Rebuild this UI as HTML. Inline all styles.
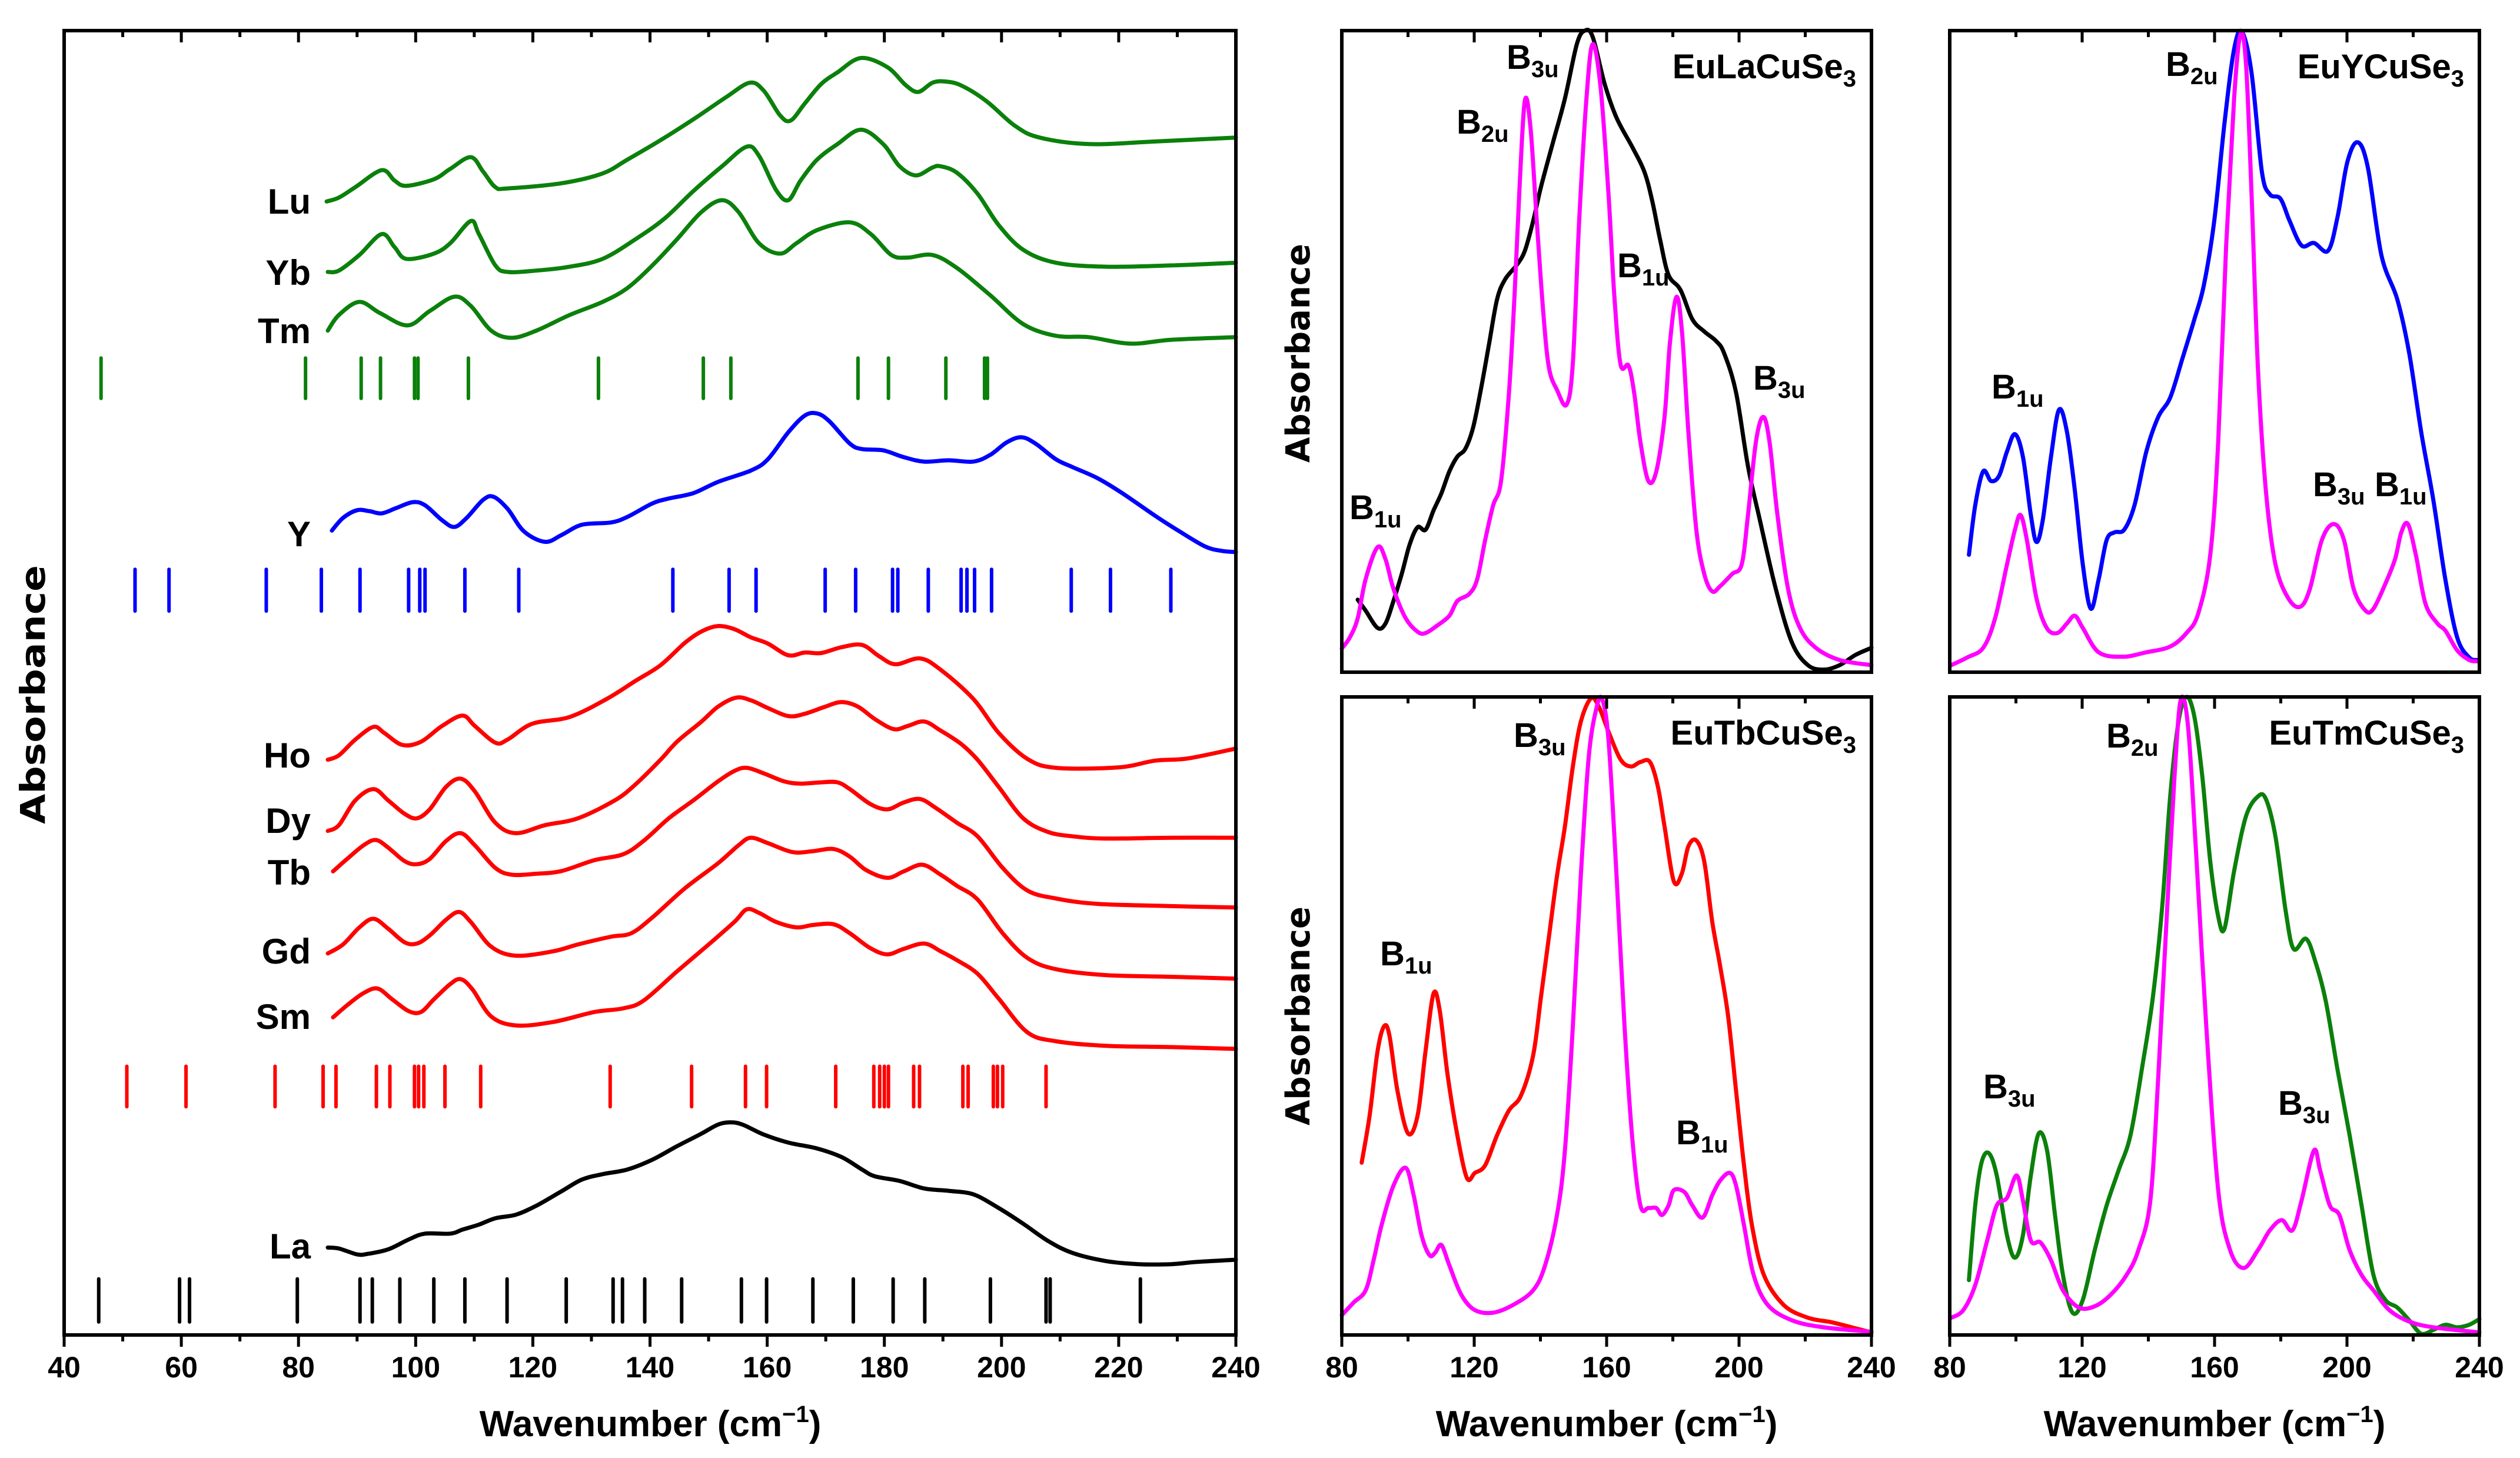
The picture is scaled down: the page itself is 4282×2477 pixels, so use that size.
<!DOCTYPE html>
<html><head><meta charset="utf-8"><style>
html,body{margin:0;padding:0;background:#fff;}
svg{display:block;}
text{font-family:"Liberation Sans",sans-serif;font-weight:bold;fill:#000;}
</style></head><body>
<svg id="fig" width="4282" height="2477" viewBox="0 0 4282 2477" xmlns="http://www.w3.org/2000/svg">
<rect x="0" y="0" width="4282" height="2477" fill="#fff"/>
<g id="left"></g>
<g id="p1"></g>
<g id="p2"></g>
<g id="p3"></g>
<g id="p4"></g>
</svg>
<script>
// ---------- LEFT PANEL DATA ----------
const luX=[84.8,86.9,89.7,94.2,96.4,98.4,103.1,105.9,109.4,111.5,113.6,115.7,124.9,131.9,136.1,141.8,147.4,153.0,157.0,159.4,162.2,164.0,166.4,169.2,172.0,176.0,180.5,183.7,185.8,188.2,190.3,193.1,197.4,202.3,206.5,215.0,226.2,240];
const luY=[86.9,87.2,88.0,89.3,88.5,88.1,88.6,89.4,90.3,89.2,88.0,87.9,88.3,89.05,90.1,91.6,93.2,94.9,96.0,95.4,93.5,93.1,94.4,95.9,96.8,97.9,97.2,95.8,95.3,96.0,96.1,95.8,94.6,92.7,91.8,91.3,91.5,91.8];
const ybX=[85.0,86.9,90.4,94.2,96.4,98.4,103.1,105.9,109.4,110.8,113.6,115.7,120.6,126.3,131.9,137.5,142.5,147.4,152.3,156.5,158.6,161.5,163.6,165.7,168.5,172.0,176.0,179.8,182.6,185.4,188.2,189.6,192.4,195.9,199.5,203.7,209.3,217.8,229.0,240];
const ybY=[81.5,81.6,82.8,84.4,83.4,82.5,82.9,83.7,85.4,84.4,82.0,81.5,81.6,81.9,82.5,84.0,85.6,87.7,89.6,91.1,90.4,87.8,87.0,88.5,90.1,91.3,92.4,91.3,89.6,88.9,89.5,89.6,89.1,87.5,85.1,83.2,82.2,81.9,82.0,82.2];
const tmX=[85.0,86.9,90.4,93.9,98.6,102.4,106.6,109.4,112.9,116.4,120.6,126.3,131.9,136.1,140.4,144.6,148.8,152.3,155.1,158.6,162.2,165.0,168.5,174.1,177.7,181.2,184.0,188.2,192.4,198.1,203.7,209.3,214.9,222.0,229.0,240];
const tmY=[77.0,78.2,79.2,78.35,77.4,78.5,79.6,78.9,77.0,76.45,77.0,78.2,79.2,80.25,82.0,84.0,86.1,87.0,86.1,83.7,82.9,83.7,84.7,85.3,84.4,82.8,82.6,82.8,81.8,79.7,77.5,76.6,76.5,76.0,76.3,76.5];
const yX=[85.7,87.6,90.0,92.1,94.2,96.7,99.5,101.6,104.5,106.6,108.7,111.5,113.3,115.7,118.5,122.1,124.9,128.4,133.3,136.1,140.4,143.2,147.4,151.6,157.2,160.1,163.6,166.4,168.5,170.6,174.1,176.2,179.8,183.3,186.8,191.0,195.2,198.1,200.9,203.4,205.8,209.3,212.1,216.4,220.6,226.2,230.4,234.7,237.5,240];
const yY=[61.67,62.64,63.23,63.16,62.99,63.40,63.85,63.61,62.47,61.95,62.64,64.02,64.26,63.33,61.60,60.81,61.33,62.12,62.29,62.71,63.75,64.13,64.54,65.40,66.27,67.13,69.2,70.48,70.65,70.06,68.34,67.92,67.82,67.30,66.96,67.06,66.96,67.48,68.44,68.82,68.34,67.13,66.54,65.68,64.54,62.81,61.60,60.46,60.12,60.02];
const hoX=[85.0,86.9,89.7,92.8,94.6,97.7,100.9,104.5,108.0,110.1,113.6,115.7,119.9,126.3,132.6,137.5,141.8,146.0,148.8,151.6,154.4,157.2,160.1,163.6,166.4,169.2,172.7,176.2,179.1,181.9,186.1,189.6,195.2,199.5,204.4,209.3,219.9,226.2,231.8,240];
const hoY=[44.10,44.44,45.65,46.62,46.17,45.24,45.48,46.69,47.48,46.69,45.41,45.65,46.86,47.38,48.76,50.14,51.35,53.08,53.94,54.35,54.11,53.49,53.01,52.11,52.32,52.28,52.73,52.90,52.04,51.42,51.87,51.00,48.76,46.17,44.17,43.48,43.51,44.03,44.20,44.96];
const dyX=[85.0,86.9,89.7,92.8,95.3,98.1,100.2,102.4,105.2,107.7,110.1,113.6,117.1,122.1,127.7,134.0,137.5,141.8,144.6,148.8,151.6,154.7,157.2,160.1,163.6,166.4,169.9,172.7,175.5,178.4,181.6,184.0,186.8,189.6,193.1,195.9,199.5,203.7,207.9,212.1,217.8,229.0,240];
const dyY=[38.64,39.09,40.99,41.85,40.99,39.96,39.61,40.30,42.03,42.65,41.68,39.27,38.47,39.09,39.61,40.99,42.20,44.10,45.48,47.03,48.17,48.86,48.66,48.07,47.45,47.62,48.17,48.52,48.17,47.21,46.45,46.69,47.03,46.34,45.31,44.10,42.03,39.61,38.57,38.23,38.06,38.12,38.12];
const tbX=[85.9,88.3,91.1,93.2,95.3,98.1,100.2,102.4,105.2,107.7,110.1,113.6,116.4,120.6,124.9,130.5,135.4,138.9,143.2,147.4,151.6,154.4,156.5,159.4,162.9,165.7,169.2,172.0,174.1,177.6,180.5,183.3,186.1,188.9,192.4,195.9,200.2,204.4,209.3,216.4,229.0,240];
const tbY=[35.54,36.50,37.54,37.95,37.37,36.33,36.09,36.50,37.88,38.47,37.54,35.81,35.29,35.36,35.57,36.40,36.85,37.88,39.61,40.99,42.44,43.24,43.48,43.06,42.44,42.27,42.37,42.37,41.85,40.71,40.30,40.82,41.09,40.37,39.27,38.23,35.81,34.08,33.46,33.05,32.88,32.77];
const gdX=[85.0,87.6,90.4,92.8,95.3,98.1,100.2,102.4,105.2,107.4,109.4,112.9,117.1,123.5,127.7,133.3,136.8,140.4,146.0,151.6,155.1,157.2,160.1,164.3,167.8,171.3,174.1,176.9,180.5,183.3,186.5,189.6,192.4,195.9,200.2,204.4,209.3,217.8,229.0,240];
const gdY=[29.25,29.94,31.25,31.91,31.15,30.11,30.01,30.63,31.84,32.43,31.67,29.77,29.08,29.42,29.94,30.53,30.80,32.01,34.26,36.16,37.54,38.12,37.71,37.02,37.09,37.26,36.67,35.64,35.05,35.54,36.05,35.29,34.43,33.39,30.80,28.91,28.04,27.59,27.46,27.32];
const smX=[85.9,88.3,91.1,93.5,96.0,98.8,100.9,103.1,105.9,107.7,109.7,112.9,117.1,123.5,130.5,135.4,138.9,144.6,150.2,154.4,156.5,158.6,161.5,165.0,167.8,171.3,174.1,177.6,180.5,183.3,186.8,189.6,192.4,195.9,199.5,204.4,209.3,217.8,229.0,240];
const smY=[24.35,25.28,26.21,26.56,25.73,24.83,24.76,25.73,26.90,27.28,26.49,24.42,23.73,24.00,24.76,25.04,25.63,27.87,30.01,31.67,32.63,32.36,31.67,31.25,31.43,31.49,30.80,29.66,29.18,29.60,30.01,29.42,28.73,27.70,25.80,23.21,22.52,22.17,22.07,21.93];
const laX=[85.0,86.9,90.0,91.8,95.3,98.8,101.6,105.9,108.0,110.8,113.6,117.1,120.6,124.9,128.4,131.9,136.1,140.4,144.6,148.8,151.6,153.7,155.8,159.4,163.6,168.5,172.7,176.2,178.4,182.6,186.8,191.0,195.2,199.5,203.7,207.9,212.1,217.8,223.4,229.0,233.3,240];
const laY=[6.70,6.63,6.18,6.22,6.56,7.32,7.77,7.77,8.08,8.46,8.95,9.22,9.91,11.02,11.92,12.33,12.68,13.44,14.47,15.44,16.13,16.30,16.13,15.37,14.75,14.30,13.64,12.68,12.16,11.81,11.23,11.05,10.78,9.74,8.53,7.22,6.29,5.67,5.43,5.43,5.60,5.77];
const greenSticks=[46.3,81.2,90.7,94.0,99.8,100.4,109.0,131.2,149.1,153.8,175.5,180.7,190.5,197.1,197.6];
const blueSticks=[52.1,57.9,74.5,83.9,90.5,98.8,100.7,101.6,108.4,117.6,143.9,153.5,158.1,169.9,175.1,181.4,182.3,187.5,193.1,194.1,195.4,198.3,211.9,218.6,228.9];
const redSticks=[50.7,60.8,76.0,84.2,86.4,93.3,95.6,99.8,100.5,101.4,105.0,111.1,133.2,147.1,156.3,159.9,171.7,178.2,179.2,180.0,180.7,185.0,186.0,193.4,194.3,198.6,199.3,200.2,207.6];
const blackSticks=[45.9,59.7,61.4,79.8,90.5,92.6,97.3,103.1,108.4,115.6,125.7,133.7,135.3,139.1,145.4,155.6,159.9,167.8,174.7,181.5,186.9,198.1,207.6,208.3,223.7];
const leftTicks=[40,60,80,100,120,140,160,180,200,220,240];
const rightTicks=[80,120,160,200,240];

// ---------- RIGHT PANEL DATA ----------
const laCurveX=[84.8,87.2,90.8,93.2,95.6,98.1,100.5,102.9,105.3,107.7,110.1,112.5,114.9,117.3,119.7,122.1,124.5,126.9,129.3,132.9,135.3,137.8,140.2,143.8,147.4,151.0,153.4,155.8,159.4,163.0,167.8,171.4,173.8,176.2,178.7,182.3,185.9,189.5,193.1,195.5,199.1,202.7,206.3,211.1,216.0,220.8,225.6,230.4,235.2,240];
const laCurveY=[11.3,9.6,6.9,7.6,11.1,15.3,19.9,22.6,22.2,25.2,27.9,31.3,33.6,34.8,38.2,44.3,51.2,58.1,61.2,63.5,65.7,70.3,75.7,82.6,89.4,97.9,100,99.0,91.7,86.4,81.8,78.0,73.4,67.3,61.9,59.6,55.0,53.1,51.6,49.7,43.6,32.1,23.7,13.0,4.6,1.1,0.4,1.1,2.7,3.8];
const laCalcX=[80.0,82.4,84.8,87.2,90.8,93.2,95.6,99.3,102.9,105.3,108.9,112.5,114.9,118.5,120.9,123.3,125.7,128.1,130.5,132.2,133.7,135.3,137.0,138.9,140.9,142.6,145.0,147.9,149.8,151.7,153.9,155.8,158.2,160.6,162.3,164.2,166.6,168.3,170.2,172.6,175.0,177.5,179.1,181.1,182.8,184.7,187.1,189.5,191.9,194.3,197.9,200.8,202.7,205.1,207.3,209.2,211.6,214.8,218.4,223.2,230.4,240];
const laCalcY=[3.7,5.4,8.4,14.5,19.5,17.6,13.0,8.4,6.3,6.1,7.3,8.8,11.1,12.2,14.5,20.6,26.0,29.8,43.6,58.9,75.7,89.1,84.9,70.3,55.8,47.4,44.0,41.7,48.2,70.3,89.4,97.9,91.0,74.2,58.9,48.0,47.8,43.6,35.9,29.8,31.3,39.8,51.2,58.5,52.8,37.5,22.2,15.3,12.6,13.4,15.3,16.8,24.5,35.9,39.8,35.9,24.5,13.0,6.9,3.8,1.9,1.1];
const yCurveX=[85.8,87.7,90.1,92.5,94.9,97.3,99.7,102.1,104.5,106.2,108.1,110.6,113.0,115.4,117.8,120.2,122.6,125.0,127.4,129.8,132.7,135.8,139.4,143.0,146.6,150.3,153.9,156.8,159.9,163.0,165.9,168.3,171.2,174.3,176.7,179.9,182.7,186.3,190.0,194.3,197.2,200.1,203.2,206.3,210.4,215.2,218.8,222.4,226.1,229.7,233.3,236.9,239.3];
const yCurveY=[18.3,26.0,31.3,29.8,30.6,34.4,37.1,33.6,24.5,20.3,23.7,33.6,40.9,37.5,28.3,16.8,9.9,14.5,20.6,21.8,22.2,26.0,34.4,39.8,42.8,48.9,55.0,60.4,70.3,85.6,97.1,99.8,93.3,78.0,74.5,73.8,70.3,66.5,66.9,65.7,71.1,79.5,82.6,78.7,65.0,58.1,49.7,37.5,26.8,14.5,5.4,2.3,1.9];
const yCalcX=[80.5,85.3,90.1,93.7,97.3,99.7,101.4,103.3,106.2,109.3,112.5,115.4,117.8,120.2,125.0,132.2,139.4,146.6,151.5,155.1,158.7,161.1,163.5,165.9,167.8,169.5,171.2,173.1,175.5,178.4,182.3,185.9,188.8,192.4,196.0,199.1,202.0,205.6,208.0,211.6,214.5,216.4,218.4,220.8,223.7,227.3,229.7,233.3,236.9,239.3];
const yCalcY=[1.1,2.3,3.8,8.4,16.8,22.2,24.5,20.6,11.5,6.9,6.1,7.6,8.8,6.9,3.1,2.4,3.1,4.0,6.1,9.2,18.3,35.9,66.5,89.4,99.4,94.8,74.2,47.4,28.3,16.8,11.5,10.2,13.0,20.6,23.1,20.6,13.0,9.6,9.9,13.8,17.6,21.8,23.1,18.3,10.7,7.6,6.5,3.4,1.9,1.7];
const tbCurveX=[86.0,88.4,90.8,92.8,94.4,96.8,100.0,102.9,105.3,107.7,109.6,112.0,114.9,117.8,120.2,123.3,126.9,130.5,134.1,137.8,140.2,142.6,145.0,147.4,149.8,152.2,155.3,157.7,160.6,164.2,167.3,170.2,173.1,175.5,177.5,180.3,182.7,184.7,187.1,189.5,191.9,194.3,196.7,199.1,201.5,203.9,207.5,213.5,220.8,227.9,234.0,240];
const tbCurveY=[27.0,34.4,44.5,48.4,46.9,38.3,31.6,34.4,44.5,53.5,50.8,40.6,31.3,24.6,25.4,26.6,31.3,35.2,37.5,43.8,53.1,62.5,71.9,79.7,89.1,96.1,99.8,98.4,94.5,90.2,89.1,89.8,89.8,85.9,79.7,71.1,72.3,76.6,77.5,74.2,64.8,57.8,50.0,38.3,26.6,17.2,9.4,4.7,2.7,2.0,1.2,0.4];
const tbCalcX=[80.0,83.6,87.2,89.6,92.0,95.6,99.3,101.7,104.1,106.5,108.2,110.1,112.5,116.1,120.2,125.7,131.7,137.8,141.4,145.0,147.4,149.8,152.2,154.6,157.0,158.7,160.6,163.0,165.4,167.8,170.2,172.6,175.0,176.7,178.7,180.3,183.5,185.9,189.0,191.9,194.3,197.2,199.1,201.5,204.4,208.7,216.0,225.6,240];
const tbCalcY=[3.1,5.1,7.0,11.7,17.2,23.4,26.2,21.9,15.6,12.5,12.9,14.1,10.9,6.3,3.9,3.5,4.7,7.0,10.9,18.8,28.9,48.4,71.9,90.6,98.4,99.6,93.0,71.9,48.4,30.5,20.3,19.9,19.9,18.8,20.3,22.7,22.4,20.3,18.4,21.9,24.2,25.4,23.4,17.2,9.4,4.7,2.3,1.2,0.5];
const tmCurveX=[85.8,87.7,89.6,91.8,94.2,97.3,99.7,102.1,104.5,106.9,109.4,111.8,114.2,117.1,120.2,123.8,127.4,131.0,134.6,138.2,141.4,144.2,146.6,149.1,151.5,153.9,156.3,158.7,161.1,163.0,165.9,169.5,173.1,175.5,178.4,181.5,183.9,187.6,190.4,193.6,197.2,200.8,204.4,208.0,211.6,215.2,218.8,222.4,226.1,229.7,233.3,236.9,240];
const tmCurveY=[8.6,20.3,27.0,28.5,25.0,15.6,12.1,15.6,25.0,31.6,28.9,18.8,9.4,3.5,5.5,13.3,20.3,25.8,31.3,42.2,53.1,67.2,84.4,96.1,100,96.9,87.5,74.2,65.6,63.7,72.7,81.3,84.4,84.0,78.1,66.4,60.5,62.1,58.6,52.3,41.4,31.3,20.3,9.4,5.5,4.3,2.3,0.2,0.8,1.6,1.2,1.6,2.5];
const tmCalcX=[80.5,84.1,87.7,91.3,94.2,97.3,100.2,102.1,104.5,107.4,110.6,114.2,119.0,123.8,128.6,133.4,137.0,140.6,143.0,145.4,147.9,149.8,152.0,154.4,157.5,161.1,164.7,168.8,173.1,176.7,180.3,183.5,186.3,190.0,191.9,194.8,197.7,200.8,204.4,208.0,212.8,218.8,226.1,240];
const tmCalcY=[2.7,3.9,7.8,14.8,20.3,21.5,25.0,21.1,14.8,14.5,11.7,7.0,4.3,4.5,6.3,9.4,13.3,21.1,40.6,64.1,87.5,99.6,95.3,75.8,48.4,22.7,13.3,10.5,13.3,16.4,18.0,16.4,21.1,28.9,25.8,20.3,18.8,13.3,9.4,7.0,3.9,2.1,1.2,0.4];

const NS="http://www.w3.org/2000/svg";
function mk(parent,tag,attrs){const e=document.createElementNS(NS,tag);for(const k in attrs)e.setAttribute(k,attrs[k]);parent.appendChild(e);return e;}

// ---------- LEFT PANEL ----------
const L={x0:109,x1:2100,y0:52,y1:2268};
const lx=w=>L.x0+(w-40)/200*(L.x1-L.x0);
const ly=v=>L.y1-v/100*(L.y1-L.y0);
const gL=document.getElementById('left');
function curve(g,X,Y,fx,fy,color,name){
  const P=X.map((x,i)=>[fx(x),fy(Y[i])]);
  let d='M'+P[0][0].toFixed(1)+','+P[0][1].toFixed(1);
  for(let i=0;i<P.length-1;i++){
    const p0=P[Math.max(0,i-1)],p1=P[i],p2=P[i+1],p3=P[Math.min(P.length-1,i+2)];
    const c1x=p1[0]+(p2[0]-p0[0])/6,c1y=p1[1]+(p2[1]-p0[1])/6;
    const c2x=p2[0]-(p3[0]-p1[0])/6,c2y=p2[1]-(p3[1]-p1[1])/6;
    d+='C'+c1x.toFixed(1)+','+c1y.toFixed(1)+' '+c2x.toFixed(1)+','+c2y.toFixed(1)+' '+p2[0].toFixed(1)+','+p2[1].toFixed(1);
  }
  const p=mk(g,'path',{d:d,fill:'none',stroke:color,'stroke-width':7,'stroke-linejoin':'round','stroke-linecap':'round'});
  
  
}
function sticks(g,arr,v0,v1,color,name){
  arr.forEach(w=>{const l=mk(g,'line',{x1:lx(w),x2:lx(w),y1:ly(v0),y2:ly(v1),stroke:color,'stroke-width':6,'stroke-linecap':'round'});
    
    });
}
function label(g,x,y,txt,size,anchor,name){
  const t=mk(g,'text',{x:x,y:y,'font-size':size,'text-anchor':anchor});t.textContent=txt;
  
  
  return t;
}
curve(gL,luX,luY,lx,ly,'#0b800b','lu-spectrum');
curve(gL,ybX,ybY,lx,ly,'#0b800b','yb-spectrum');
curve(gL,tmX,tmY,lx,ly,'#0b800b','tm-spectrum');
curve(gL,yX,yY,lx,ly,'#0000ff','y-spectrum');
curve(gL,hoX,hoY,lx,ly,'#ff0000','ho-spectrum');
curve(gL,dyX,dyY,lx,ly,'#ff0000','dy-spectrum');
curve(gL,tbX,tbY,lx,ly,'#ff0000','tb-spectrum');
curve(gL,gdX,gdY,lx,ly,'#ff0000','gd-spectrum');
curve(gL,smX,smY,lx,ly,'#ff0000','sm-spectrum');
curve(gL,laX,laY,lx,ly,'#000000','la-spectrum');
sticks(gL,greenSticks,74.9,71.8,'#0b800b','green-mode-stick');
sticks(gL,blueSticks,58.7,55.5,'#0000ff','blue-mode-stick');
sticks(gL,redSticks,20.6,17.5,'#ff0000','red-mode-stick');
sticks(gL,blackSticks,4.3,1.0,'#000000','black-mode-stick');
[['Lu',342,'lu-label'],['Yb',463,'yb-label'],['Tm',562,'tm-label'],['Y',907,'y-label'],['Ho',1283,'ho-label'],['Dy',1394,'dy-label'],['Tb',1482,'tb-label'],['Gd',1616,'gd-label'],['Sm',1727,'sm-label'],['La',2117,'la-label']].forEach(a=>label(gL,528,a[1]+21,a[0],60,'end',a[2]));
const fr=mk(gL,'rect',{x:L.x0,y:L.y0,width:L.x1-L.x0,height:L.y1-L.y0,fill:'none',stroke:'#000','stroke-width':6});


for(let w=40;w<=240;w+=10){
  const major=(w%20===0);const x=lx(w);
  mk(gL,'line',{x1:x,x2:x,y1:L.y1,y2:L.y1+(major?20:11),stroke:'#000','stroke-width':5});
  mk(gL,'line',{x1:x,x2:x,y1:L.y0,y2:L.y0+(major?20:11),stroke:'#000','stroke-width':5});
}
leftTicks.forEach(w=>label(gL,lx(w),2340,String(w),50,'middle','x-tick-label'));
const xt=label(gL,1105,2440,'Wavenumber (cm',62,'middle','x-axis-title');
const sup=mk(xt,'tspan',{'font-size':40,dy:-24});sup.textContent='\u22121';
const cl=mk(xt,'tspan',{dy:24});cl.textContent=')';
const yt=mk(gL,'text',{x:0,y:0,'font-size':58,'text-anchor':'middle',transform:'translate(76,1180) rotate(-90)',style:'font-family:"DejaVu Sans",sans-serif',textLength:440,lengthAdjust:'spacingAndGlyphs'});
yt.textContent='Absorbance';



// ---------- RIGHT PANELS ----------
function panel(id,box,series,title,labels,bottom,absY){
  const g=document.getElementById(id);
  const fx=w=>box.x0+(w-80)/160*(box.x1-box.x0);
  const fy=v=>box.y1-v/100*(box.y1-box.y0);
  series.forEach(s=>curve(g,s[0],s[1],fx,fy,s[2],s[3]));
  const r=mk(g,'rect',{x:box.x0,y:box.y0,width:box.x1-box.x0,height:box.y1-box.y0,fill:'none',stroke:'#000','stroke-width':6});
  
  
  for(let w=80;w<=240;w+=20){const x=fx(w);const major=(w%40===0);
    mk(g,'line',{x1:x,x2:x,y1:box.y0,y2:box.y0+(major?20:11),stroke:'#000','stroke-width':5});
    if(bottom) mk(g,'line',{x1:x,x2:x,y1:box.y1,y2:box.y1+(major?20:11),stroke:'#000','stroke-width':5});
  }
  if(bottom){
    rightTicks.forEach(w=>label(g,fx(w),2340,String(w),50,'middle','x-tick-label'));
    const t=label(g,(box.x0+box.x1)/2,2440,'Wavenumber (cm',62,'middle','x-axis-title');
    const s=mk(t,'tspan',{'font-size':40,dy:-24});s.textContent='\u22121';
    const c=mk(t,'tspan',{dy:24});c.textContent=')';
  }
  if(absY){
    const a=mk(g,'text',{x:0,y:0,'font-size':56,'text-anchor':'middle',transform:'translate(2225,'+absY+') rotate(-90)',style:'font-family:"DejaVu Sans",sans-serif',textLength:372,lengthAdjust:'spacingAndGlyphs'});
    a.textContent='Absorbance';
    
    
  }
  const tt=label(g,box.x1-26,box.y0+81,'',58,'end','compound-title');
  const m=title.match(/^(.*)(\d)$/);
  const t1=mk(tt,'tspan',{});t1.textContent=m[1];
  const t2=mk(tt,'tspan',{'font-size':40,dy:14});t2.textContent=m[2];
  labels.forEach(l=>{
    const t=label(g,l[0],l[1],'',58,'start','mode-label');
    const a=mk(t,'tspan',{});a.textContent='B';
    const b=mk(t,'tspan',{'font-size':40,dy:14});b.textContent=l[2];
  });
}
panel('p1',{x0:2280,x1:3180,y0:52,y1:1142},[[laCurveX,laCurveY,'#000','experimental-spectrum'],[laCalcX,laCalcY,'#ff00ff','calculated-spectrum']],'EuLaCuSe3',
  [[2560,117,'3u'],[2475,227,'2u'],[2748,471,'1u'],[2979,662,'3u'],[2293,882,'1u']],false,600);
panel('p2',{x0:3313,x1:4213,y0:52,y1:1142},[[yCurveX,yCurveY,'#0000ff','experimental-spectrum'],[yCalcX,yCalcY,'#ff00ff','calculated-spectrum']],'EuYCuSe3',
  [[3680,129,'2u'],[3384,677,'1u'],[3930,843,'3u'],[4035,843,'1u']],false,0);
panel('p3',{x0:2280,x1:3180,y0:1184,y1:2268},[[tbCurveX,tbCurveY,'#ff0000','experimental-spectrum'],[tbCalcX,tbCalcY,'#ff00ff','calculated-spectrum']],'EuTbCuSe3',
  [[2572,1269,'3u'],[2345,1640,'1u'],[2848,1944,'1u']],true,1726);
panel('p4',{x0:3313,x1:4213,y0:1184,y1:2268},[[tmCurveX,tmCurveY,'#0b800b','experimental-spectrum'],[tmCalcX,tmCalcY,'#ff00ff','calculated-spectrum']],'EuTmCuSe3',
  [[3579,1270,'2u'],[3370,1866,'3u'],[3871,1894,'3u']],true,0);
</script>
</body></html>
